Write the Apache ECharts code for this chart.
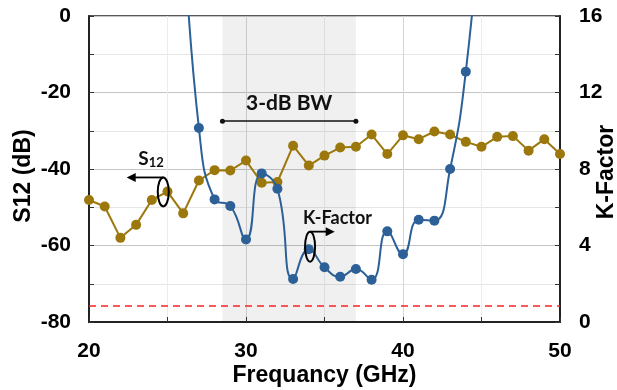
<!DOCTYPE html>
<html>
<head>
<meta charset="utf-8">
<script src="https://cdn.jsdelivr.net/npm/echarts@6/dist/echarts.min.js"></script>
<style>
  html, body { margin: 0; padding: 0; background: #fff; }
  #chart { width: 617px; height: 390px; }
</style>
</head>
<body>
<div id="chart"></div>
<script>
// Frequency sweep (GHz)
var freqS12 = [20, 21, 22, 23, 24, 25, 26, 27, 28, 29, 30, 31, 32, 33, 34, 35,
               36, 37, 38, 39, 40, 41, 42, 43, 44, 45, 46, 47, 48, 49, 50];
// Reverse isolation S12 (dB)
var s12 = [-48.1, -49.8, -58.0, -54.6, -48.1, -45.9, -51.6, -43.0, -40.3, -40.4, -37.8,
           -43.6, -43.4, -33.9, -39.1, -36.5, -34.4, -34.2, -31.0, -36.1, -31.2,
           -32.2, -30.2, -31.0, -32.9, -34.2, -31.6, -31.4, -35.2, -32.2, -36.1];

// Stability K-factor (unitless); end points lie above the axis range
var freqK = [26, 27, 28, 29, 30, 31, 32, 33, 34, 35, 36, 37, 38, 39, 40, 41, 42, 43, 44, 45];
var kFactor = [21, 10.14, 6.41, 6.07, 4.32, 7.77, 6.97, 2.25, 3.80, 2.86,
               2.37, 2.77, 2.21, 4.74, 3.54, 5.35, 5.30, 8.0, 13.09, 22];

// Axis ticks
var xTicks = { min: 20, max: 50, step: 10 };
var s12Ticks = { min: -80, max: 0, step: 20 };
var kTicks = { min: 0, max: 16, step: 4 };

// 3-dB bandwidth span (GHz) and the level of its marker line (dB)
var bwSpan = [28.5, 37];
var bwLevel = -27.5;
// K = 1 stability limit
var kLimit = 0.87;

var GOLD = '#9c780c';
var BLUE = '#2c6097';
var AXIS_FONT = '"Liberation Sans", Arial, sans-serif';
var NOTE_FONT = 'Lato, "Open Sans", sans-serif';

function pairs(xs, ys) {
  return xs.map(function (x, i) { return [x, ys[i]]; });
}

var chart = echarts.init(document.getElementById('chart'), null, { renderer: 'canvas' });

var tickLabel = { color: '#000', fontFamily: AXIS_FONT, fontWeight: 'bold', fontSize: 21 };
var nameStyle = { color: '#000', fontFamily: AXIS_FONT, fontWeight: 'bold', fontSize: 23 };
var axisLine = { show: true, onZero: false, lineStyle: { color: '#222', width: 2 } };

chart.setOption({
  animation: false,
  backgroundColor: '#fff',
  grid: { left: 89, right: 57, top: 16, bottom: 68, show: true,
          containLabel: false, outerBoundsMode: 'none',
          borderColor: '#222', borderWidth: 1.5 },
  xAxis: {
    type: 'value', min: xTicks.min, max: xTicks.max, interval: xTicks.step,
    name: 'Frequancy (GHz)', nameLocation: 'middle', nameGap: 42, nameMoveOverlap: false,
    nameTextStyle: nameStyle,
    axisLine: axisLine,
    axisTick: { inside: true, length: 5, lineStyle: { color: '#333' } },
    minorTick: { show: true, splitNumber: 2, length: 5, lineStyle: { color: '#333' } },
    axisLabel: Object.assign({ margin: 19 }, tickLabel),
    splitLine: { show: true, lineStyle: { color: '#d6d6d6', width: 1 } },
    minorSplitLine: { show: true, lineStyle: { color: '#ececec', width: 1 } }
  },
  yAxis: [{
    type: 'value', min: s12Ticks.min, max: s12Ticks.max, interval: s12Ticks.step,
    name: 'S12 (dB)', nameLocation: 'middle', nameGap: 54, nameRotate: 90,
    nameMoveOverlap: false,
    nameTextStyle: Object.assign({ padding: [0, 14, 0, 0] }, nameStyle),
    axisLine: axisLine,
    axisTick: { inside: true, length: 5, lineStyle: { color: '#333' } },
    minorTick: { show: true, splitNumber: 2, length: 5, lineStyle: { color: '#333' } },
    axisLabel: Object.assign({ margin: 18 }, tickLabel),
    splitLine: { show: true, lineStyle: { color: '#c4c4c4', width: 1 } },
    minorSplitLine: { show: true, lineStyle: { color: '#e6e6e6', width: 1 } }
  }, {
    type: 'value', position: 'right', min: kTicks.min, max: kTicks.max, interval: kTicks.step,
    name: 'K-Factor', nameLocation: 'middle', nameGap: 35, nameRotate: 90,
    nameMoveOverlap: false,
    nameTextStyle: Object.assign({ padding: [0, 6, 0, 0] }, nameStyle),
    axisLine: axisLine,
    axisTick: { inside: true, length: 5, lineStyle: { color: '#333' } },
    minorTick: { show: true, splitNumber: 2, length: 5, lineStyle: { color: '#333' } },
    axisLabel: Object.assign({ margin: 19 }, tickLabel),
    splitLine: { show: false }
  }],
  series: [{
    name: 'S12',
    type: 'line',
    yAxisIndex: 0,
    data: pairs(freqS12, s12),
    symbol: 'circle', symbolSize: 10,
    itemStyle: { color: GOLD },
    lineStyle: { color: GOLD, width: 2 },
    z: 3,
    markArea: {
      silent: true,
      itemStyle: { color: 'rgba(0,0,0,0.06)' },
      data: [[{ xAxis: bwSpan[0] }, { xAxis: bwSpan[1] }]]
    },
    markLine: {
      silent: true, animation: false,
      symbol: ['circle', 'circle'], symbolSize: 5,
      lineStyle: { color: '#111', width: 1.5, type: 'solid' },
      label: { show: true, position: 'middle', formatter: '3-dB BW', distance: 7,
               color: '#111', fontFamily: NOTE_FONT, fontWeight: 'bold', fontSize: 21 },
      data: [[{ coord: [bwSpan[0], bwLevel] }, { coord: [bwSpan[1], bwLevel] }]]
    }
  }, {
    name: 'K-Factor',
    type: 'line',
    yAxisIndex: 1,
    data: pairs(freqK, kFactor),
    smooth: 0.5,
    clip: true,
    symbol: 'circle', symbolSize: 10,
    itemStyle: { color: BLUE },
    lineStyle: { color: BLUE, width: 2 },
    z: 4,
    markLine: {
      silent: true, animation: false, symbol: ['none', 'none'],
      lineStyle: { color: '#ff2020', width: 1.5, type: [7, 5] },
      label: { show: false },
      data: [{ yAxis: kLimit }]
    }
  }]
});

// Series call-outs: ellipse around a curve with an arrow toward its axis
function px(x, y, yIdx) {
  return chart.convertToPixel({ xAxisIndex: 0, yAxisIndex: yIdx }, [x, y]);
}

function callout(center, rx, ry, tipX) {
  var top = center[1] - ry;
  var dir = tipX < center[0] ? -1 : 1;
  var head = 9, half = 4.5;
  return [{
    type: 'ellipse', shape: { cx: center[0], cy: center[1], rx: rx, ry: ry },
    style: { fill: 'none', stroke: '#000', lineWidth: 2 }, z: 20
  }, {
    type: 'line', shape: { x1: center[0], y1: top, x2: tipX - dir * head + dir, y2: top },
    style: { stroke: '#000', lineWidth: 1.8 }, z: 20
  }, {
    type: 'polygon',
    shape: { points: [[tipX, top], [tipX - dir * head, top - half], [tipX - dir * head, top + half]] },
    style: { fill: '#000' }, z: 20
  }];
}

function drawNotes() {
  var s12Center = px(24.73, -46.0, 0);
  var s12Tip = px(22.4, -46.0, 0)[0];
  var kCenter = px(34.08, 3.94, 1);
  var kTip = px(35.65, 3.94, 1)[0];
  var s12Text = px(23.95, -37.4, 0);
  var kText = px(33.63, 5.44, 1);

  var elements = []
    .concat(callout(s12Center, 5.5, 14.5, s12Tip))
    .concat(callout(kCenter, 5, 15, kTip))
    .concat([{
      type: 'text', x: s12Text[0], y: s12Text[1], z: 20,
      style: {
        text: '{s|S}{sub|12}', align: 'center', verticalAlign: 'middle',
        rich: {
          s: { fontFamily: NOTE_FONT, fontWeight: 'bold', fontSize: 19, fill: '#111' },
          sub: { fontFamily: NOTE_FONT, fontWeight: 'bold', fontSize: 13, fill: '#111',
                 padding: [8, 0, 0, 0] }
        }
      }
    }, {
      type: 'text', x: kText[0], y: kText[1], z: 20,
      style: {
        text: 'K-Factor', align: 'left', verticalAlign: 'middle',
        fontFamily: NOTE_FONT, fontWeight: 'bold', fontSize: 18, fill: '#111'
      }
    }]);

  chart.setOption({ graphic: { elements: elements } }, { replaceMerge: ['graphic'] });
}

drawNotes();
</script>
</body>
</html>
